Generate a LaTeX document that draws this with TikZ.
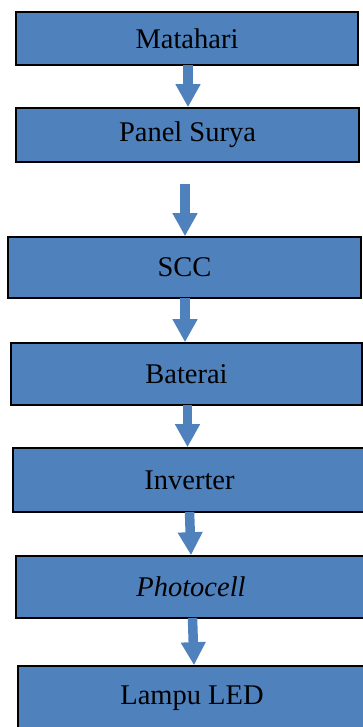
\documentclass[tikz,border=0pt]{standalone}
\usepackage{fontspec}
\setmainfont{Liberation Serif}
\usetikzlibrary{arrows.meta,calc}
\definecolor{boxblue}{HTML}{4F81BD}
\tikzset{
  stage/.style={draw=black, line width=1.6pt, fill=boxblue, inner sep=0pt,
    font=\fontsize{28.5}{32}\selectfont, text=black},
  flow/.style={draw=boxblue, line width=9.5pt,
    -{Triangle[width=23.5pt,length=23pt]}}
}
\begin{document}
\begin{tikzpicture}[x=1pt,y=1pt]
\useasboundingbox (0,0) rectangle (363,727);
\begin{scope}
\clip (0,0) rectangle (363,727);
% stages of the solar street-light system
\node[stage, minimum width=342pt, minimum height=53pt] (sun) at (187,688.5) {Matahari};
\node[stage, minimum width=343pt, minimum height=54pt] (pv)  at (187.5,592) {Panel Surya};
\node[stage, minimum width=353pt, minimum height=61pt] (scc) at (184.5,459.5) {SCC};
\node[stage, minimum width=351pt, minimum height=62pt] (bat) at (186.5,353) {Baterai};
\node[stage, minimum width=353pt, minimum height=64pt] (inv) at (189.5,247) {Inverter};
\node[stage, minimum width=350pt, minimum height=62pt] (pc)  at (191,140) {\itshape Photocell};
\node[stage, minimum width=348pt, minimum height=64pt] (led) at (192,29) {Lampu LED};
% connectors
\draw[flow] ($(sun.south)+(1,0.8)$) -- ($(pv.north)+(0.5,0)$);
\draw[flow] ($(pv.south)+(-2.5,-21)$) -- ($(scc.north)+(0.5,0)$);
\draw[flow] ($(scc.south)+(0.5,0.8)$) -- ($(bat.north)+(-1.5,0)$);
\draw[flow] ($(bat.south)+(1,0.8)$) -- ($(inv.north)+(-2,0)$);
\draw[flow] ($(inv.south)+(0,0.8)$) -- ($(pc.north)+(0,0)$);
\draw[flow] ($(pc.south)+(1.5,0.8)$) -- ($(led.north)+(2,0)$);
\end{scope}
\end{tikzpicture}
\end{document}
